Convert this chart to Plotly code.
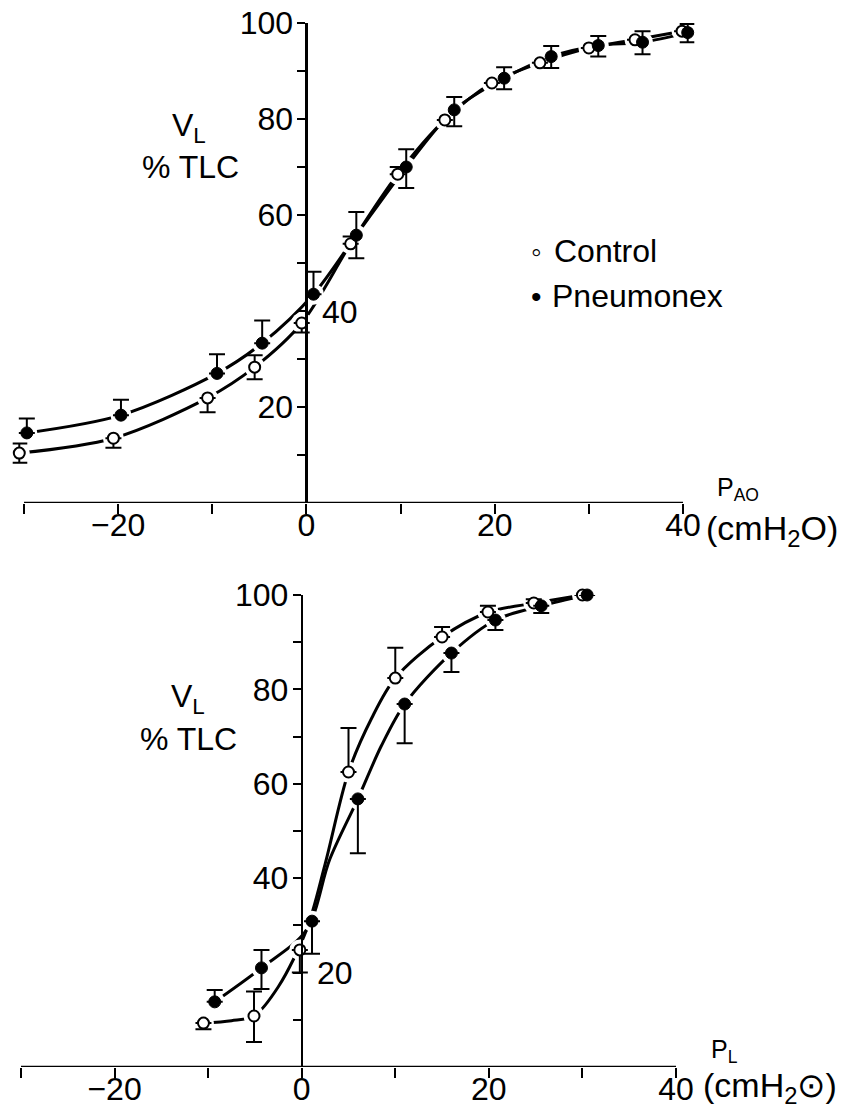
import plotly.graph_objects as go

# page is 854 x 1111; the body margin is removed after plotting (post_script)
PAGE_W, PAGE_H, OFF = 854, 1111, 0
W, H = PAGE_W - OFF, PAGE_H - OFF

# ---------------- data ----------------
# Top panel: V_L (% TLC) vs P_AO (cmH2O)
top_ctrl_x = [-30.5, -20.5, -10.5, -5.5, -0.5, 4.7, 9.7, 14.7, 19.7, 24.8, 30.0, 34.9, 39.9]
top_ctrl_y = [10.4, 13.5, 21.9, 28.3, 37.5, 54.0, 68.5, 79.8, 87.5, 91.7, 94.8, 96.5, 98.3]
top_ctrl_up = [2.0, 0, 0, 2.5, 0, 1.5, 1.5, 0, 0, 0, 0, 0, 0]
top_ctrl_dn = [2.0, 2.0, 3.0, 2.5, 2.0, 0, 0, 0, 0, 0, 0, 0, 0]

top_pneu_x = [-29.7, -19.7, -9.5, -4.7, 0.75, 5.3, 10.6, 15.7, 21.0, 26.0, 31.0, 35.7, 40.5]
top_pneu_y = [14.6, 18.3, 27.0, 33.3, 43.5, 55.8, 70.0, 81.9, 88.5, 93.0, 95.3, 96.0, 98.0]
top_pneu_up = [3.0, 3.2, 4.0, 4.7, 4.7, 4.8, 3.7, 2.7, 2.3, 2.2, 2.0, 2.3, 1.8]
top_pneu_dn = [0, 0, 0, 0, 0, 4.8, 4.4, 3.4, 2.3, 2.4, 2.3, 2.5, 2.0]

# Bottom panel: V_L (% TLC) vs P_L (cmH2O)
bot_ctrl_x = [-10.5, -5.1, -0.2, 5.0, 10.0, 15.0, 19.9, 24.8, 30.0]
bot_ctrl_y = [9.3, 10.8, 24.8, 62.5, 82.4, 91.1, 96.4, 98.3, 100.0]
bot_ctrl_up = [0, 5.2, 0, 9.3, 6.4, 2.1, 1.3, 0.8, 0]
bot_ctrl_dn = [1.3, 5.5, 4.8, 0, 0, 0, 0, 0, 0]

bot_pneu_x = [-9.3, -4.3, 1.1, 6.0, 11.0, 16.0, 20.7, 25.6, 30.5]
bot_pneu_y = [13.8, 21.0, 30.9, 56.8, 76.9, 87.7, 94.7, 97.7, 100.0]
bot_pneu_up = [2.5, 3.8, 0, 0, 0, 0, 0, 0, 0]
bot_pneu_dn = [0, 4.5, 6.9, 11.5, 8.3, 4.0, 2.1, 1.5, 0]

# fitted curves of the bottom panel
bot_ctrl_curve_x = [-10.5, -7.5, -5.1, -2.5, 0.5, 2.5, 5.0, 7.5, 10.0, 15.0, 20.0, 25.0, 30.0]
bot_ctrl_curve_y = [9.3, 9.8, 10.8, 17.0, 29.0, 43.0, 62.5, 74.0, 82.4, 91.1, 96.4, 98.3, 100.0]
bot_pneu_curve_x = [-9.3, -4.3, 0.5, 3.0, 6.0, 8.5, 11.0, 16.0, 20.7, 25.6, 30.5]
bot_pneu_curve_y = [13.8, 21.0, 29.0, 44.0, 56.8, 68.0, 76.9, 87.7, 94.7, 97.7, 100.0]

# axis extents and ticks (data units)
x_axis_start, x_axis_end = -30, 40
x_major_vals = [-20, 0, 20, 40]
x_major_text = ["\u221220", "0", "20", "40"]
x_minor_vals = [-30, -10, 10, 30]
top_y_major_vals = [20, 60, 80, 100]
top_y_minor_vals = [10, 30, 40, 50, 70, 90]
bot_y_major_vals = [40, 60, 80, 100]
bot_y_minor_vals = [10, 20, 30, 50, 70, 90]

FONT = "Liberation Sans, Arial, Helvetica, sans-serif"


def px(xp):
    return (xp - OFF) / W


def py(yp):
    return 1 - (yp - OFF) / H


fig = go.Figure()


def add_panel(xa, ya, cx, cy, cup, cdn, pxs, pys, pup, pdn, ccx, ccy, pcx, pcy):
    for lx, ly in ((ccx, ccy), (pcx, pcy)):
        fig.add_trace(go.Scatter(x=lx, y=ly, mode="lines", xaxis=xa, yaxis=ya,
                                 line=dict(color="black", width=3, shape="spline", smoothing=0.9),
                                 showlegend=False, hoverinfo="skip"))
    for mx, my in ((cx, cy), (pxs, pys)):
        fig.add_trace(go.Scatter(x=mx, y=my, mode="markers", xaxis=xa, yaxis=ya,
                                 marker=dict(color="white", size=21, line=dict(width=0)),
                                 cliponaxis=False, showlegend=False, hoverinfo="skip"))
    fig.add_trace(go.Scatter(x=cx, y=cy, mode="markers", xaxis=xa, yaxis=ya, name="Control",
                             marker=dict(color="white", size=11, line=dict(color="black", width=2)),
                             error_y=dict(type="data", symmetric=False, array=cup, arrayminus=cdn,
                                          color="black", thickness=2, width=8),
                             cliponaxis=False, showlegend=False))
    fig.add_trace(go.Scatter(x=pxs, y=pys, mode="markers", xaxis=xa, yaxis=ya, name="Pneumonex",
                             marker=dict(color="black", size=12, line=dict(color="black", width=1)),
                             error_y=dict(type="data", symmetric=False, array=pup, arrayminus=pdn,
                                          color="black", thickness=2, width=8),
                             cliponaxis=False, showlegend=False))
    # x-axis base line drawn from -30 to 40 at y = 0
    fig.add_shape(type="line", xref=xa, yref=ya, x0=x_axis_start, x1=x_axis_end, y0=0, y1=0,
                  line=dict(color="black", width=2.5), layer="above")


add_panel("x", "y", top_ctrl_x, top_ctrl_y, top_ctrl_up, top_ctrl_dn,
          top_pneu_x, top_pneu_y, top_pneu_up, top_pneu_dn,
          top_ctrl_x, top_ctrl_y, top_pneu_x, top_pneu_y)
add_panel("x2", "y2", bot_ctrl_x, bot_ctrl_y, bot_ctrl_up, bot_ctrl_dn,
          bot_pneu_x, bot_pneu_y, bot_pneu_up, bot_pneu_dn,
          bot_ctrl_curve_x, bot_ctrl_curve_y, bot_pneu_curve_x, bot_pneu_curve_y)

axis_common = dict(showgrid=False, zeroline=False, linecolor="black", linewidth=2.5,
                   ticks="outside", tickcolor="black", tickwidth=2, automargin=False,
                   ticklabeloverflow="allow",
                   tickfont=dict(family=FONT, size=32, color="black"), fixedrange=True)


def x_axis(dom, anchor):
    return dict(domain=dom, range=x_range, anchor=anchor, showline=False,
                tickmode="array", tickvals=x_major_vals, ticktext=x_major_text,
                ticklen=10, ticklabelstandoff=-16,
                minor=dict(tickmode="array", tickvals=x_minor_vals, ticks="outside",
                           ticklen=10, tickwidth=2, tickcolor="black", showgrid=False),
                **axis_common)


def y_axis(dom, pos, major, minor):
    return dict(domain=dom, range=[0, 100], anchor="free", position=pos, showline=True,
                tickmode="array", tickvals=major, ticktext=[str(v) for v in major],
                ticklen=8, ticklabelstandoff=-2,
                minor=dict(tickmode="array", tickvals=minor, ticks="outside",
                           ticklen=8, tickwidth=2, tickcolor="black", showgrid=False),
                **axis_common)


# panel geometry (page pixels): position of x=-30, x=40, y=0, y=100
t_x0, t_x1, t_y0, t_y100 = 24, 683, 503, 23
b_x0, b_x1, b_y0, b_y100 = 21, 676, 1067, 595
XPAD = 1.2  # data units of padding so points at +-0.5 beyond the axis ends are drawn


def x_domain(x0p, x1p):
    k = (x1p - x0p) / (x_axis_end - x_axis_start)
    return [px(x0p - XPAD * k), px(x1p + XPAD * k)], x0p + (0 - x_axis_start) * k


t_dom, t_zero = x_domain(t_x0, t_x1)
b_dom, b_zero = x_domain(b_x0, b_x1)
x_range = [x_axis_start - XPAD, x_axis_end + XPAD]

fig.update_layout(
    template="none",
    width=W, height=H,
    margin=dict(l=0, r=0, t=0, b=0, pad=0, autoexpand=False),
    paper_bgcolor="white", plot_bgcolor="white",
    showlegend=False,
    font=dict(family=FONT, size=32, color="black"),
    xaxis=x_axis(t_dom, "y"),
    yaxis=y_axis([py(t_y0), py(t_y100)], px(t_zero), top_y_major_vals, top_y_minor_vals),
    xaxis2=x_axis(b_dom, "y2"),
    yaxis2=y_axis([py(b_y0), py(b_y100)], px(b_zero), bot_y_major_vals, bot_y_minor_vals),
)


def ann(text, xp, yp, size=32, xanchor="center", yanchor="middle"):
    fig.add_annotation(text=text, x=px(xp), y=py(yp), xref="paper", yref="paper",
                       xanchor=xanchor, yanchor=yanchor, showarrow=False, borderpad=0,
                       font=dict(family=FONT, size=size, color="black"))


# y-axis titles
ann("V<sub>L</sub>", 189, 128, size=32)
ann("% TLC", 190, 167, size=32)
ann("V<sub>L</sub>", 188, 698, size=32)
ann("% TLC", 188, 739, size=32)

# in-axis tick labels placed to the right of the axis
ann("40", 340, 312)
ann("20", 335, 973)

# x-axis titles
ann("P<sub>AO</sub>", 738, 489, size=25)
ann("(cmH<sub>2</sub>O)", 705, 530, size=34, xanchor="left")
ann("P<sub>L</sub>", 724, 1051, size=25)
ann("(cmH<sub>2</sub>\u2299)", 702, 1110, size=34, xanchor="left", yanchor="bottom")

# legend
ann("\u25e6", 536, 251, size=30)
ann("Control", 553, 251, xanchor="left")
ann("\u2022", 536, 296, size=30)
ann("Pneumonex", 551, 296, xanchor="left")

fig.write_html("out.html", config={"displayModeBar": False, "staticPlot": True},
               post_script="document.body.style.margin='0px';")
